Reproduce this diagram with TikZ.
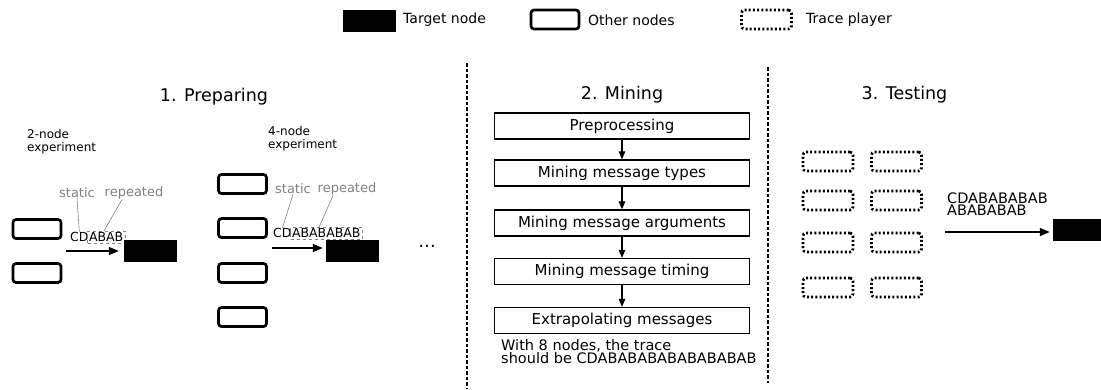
\documentclass[tikz,border=0pt]{standalone}
\usepackage{fontspec}
\setmainfont{DejaVu Sans}
\usepackage{tikz}
\usetikzlibrary{calc,arrows,arrows.meta,positioning}

\begin{document}
\begin{tikzpicture}[x=1pt,y=-1pt]
                      \tikzstyle{target}=[fill=black,draw=none,minimum width=53pt,minimum height=22pt,inner sep=0pt]
                      \tikzstyle{other}=[draw=black,line width=2.7pt,rounded corners=3pt,minimum width=48pt,minimum height=19pt,inner sep=0pt]
                      \tikzstyle{player}=[draw=black,line width=2.7pt,dash pattern=on 2pt off 2.2pt,rounded corners=3pt,minimum width=50pt,minimum height=19pt,inner sep=0pt]
                      \tikzstyle{stage}=[draw=black,line width=1.3pt,minimum width=255pt,minimum height=26pt,inner sep=0pt,font=\fontsize{15}{18}\selectfont]
                      \tikzstyle{title}=[inner sep=0pt,font=\fontsize{17.5}{20}\selectfont]
                      \tikzstyle{small}=[inner sep=0pt,font=\fontsize{12}{13}\selectfont]
                      \tikzstyle{note}=[inner sep=0pt,gray,font=\fontsize{13}{14}\selectfont]
                      \tikzstyle{trace}=[inner sep=0pt,font=\fontsize{12.5}{13}\selectfont]
                      \tikzstyle{rep}=[draw=gray,dashed,line width=0.6pt,inner sep=1.5pt,font=\fontsize{12.5}{13}\selectfont]
                      \tikzstyle{arr}=[line width=1.5pt,-{Triangle[length=10pt,width=8pt]}]
                      \tikzstyle{sep}=[line width=1.1pt,dash pattern=on 3.5pt off 2pt]
                      \useasboundingbox (0,0) rectangle (1101,389);
                      % legend
                      \node[target] (lt) at (369.5,21) {};
                      \node[anchor=west,inner sep=0pt,font=\fontsize{14}{16}\selectfont] (ltx) at (403,20) {Target node};
                      \node[other] (lo) at (555,19.5) {};
                      \node[anchor=west,inner sep=0pt,font=\fontsize{14}{16}\selectfont] (lox) at (588,20) {Other nodes};
                      \node[player] (lp) at (766.5,19.5) {};
                      \node[anchor=west,inner sep=0pt,font=\fontsize{14}{16}\selectfont] (lpx) at (806,20) {Trace player};
                      % separators
                      \coordinate (s1a) at (467,63);
                      \coordinate (s1b) at (467,389);
                      \coordinate (s2a) at (768,67);
                      \coordinate (s2b) at (768,383);
                      \draw[sep] (s1a) -- (s1b);
                      \draw[sep] (s2a) -- (s2b);
                      % 1. Preparing
                      \node[title] (prep) at (214,97) {1. Preparing};
                      \node[small,anchor=west,align=left] (exp2) at (27,142) {2-node\\experiment};
                      \node[other] (a1) at (37,229) {};
                      \node[other] (a2) at (37,273) {};
                      \node[trace,anchor=west] (cd2) at (70,237) {CD};
                      \node[rep,right=-1.5pt of cd2] (ab2) {ABAB};
                      \node[note] (st2) at (77,193) {static};
                      \node[note] (rp2) at (134,193) {repeated};
                      \draw[gray,line width=0.6pt] (st2.south) -- (cd2.north);
                      \draw[gray,line width=0.6pt] ([xshift=-12pt]rp2.south) -- ([xshift=-2pt]ab2.north);
                      \node[target] (t2) at (150.5,250.5) {};
                      \coordinate (in2) at (66,251);
                      \draw[arr,shorten >=5pt] (in2) -- (t2.west |- in2);
                      \node[small,anchor=west,align=left] (exp4) at (268,139) {4-node\\experiment};
                      \node[other] (b1) at (242.5,184) {};
                      \node[other] (b2) at (242.5,228) {};
                      \node[other] (b3) at (242.5,273) {};
                      \node[other] (b4) at (242.5,317) {};
                      \node[trace,anchor=west] (cd4) at (273,233) {CD};
                      \node[rep,right=-1.5pt of cd4] (ab4) {ABABABAB};
                      \node[note] (st4) at (293,189) {static};
                      \node[note] (rp4) at (347,189) {repeated};
                      \draw[gray,line width=0.6pt] (st4.south) -- (cd4.north);
                      \draw[gray,line width=0.6pt] ([xshift=-14pt]rp4.south) -- ([xshift=-7pt]ab4.north);
                      \node[target] (t4) at (352.5,251) {};
                      \coordinate (in4) at (272,248);
                      \draw[arr,shorten >=3pt] (in4) -- (t4.west |- in4);
                      \node[title] (dots) at (427,246) {\dots};
                      % 2. Mining
                      \node[title] (mine) at (622,95) {2. Mining};
                      \node[stage] (m1) at (622,126) {Preprocessing};
                      \node[stage] (m2) at (622,173) {Mining message types};
                      \node[stage] (m3) at (622,223) {Mining message arguments};
                      \node[stage] (m4) at (622,271.5) {Mining message timing};
                      \node[stage] (m5) at (622,320.5) {Extrapolating messages};
                      \foreach \i/\j in {m1/m2,m2/m3,m3/m4,m4/m5}
                        \draw[line width=1.2pt,-{Triangle[length=8pt,width=6.5pt]}] (\i) -- (\j);
                      \node[anchor=west,align=left,inner sep=0pt,font=\fontsize{14.5}{13}\selectfont] (res) at (501,351.5) {With 8 nodes, the trace\\should be CDABABABABABABABAB};
                      % 3. Testing
                      \node[title] (test) at (904.5,95) {3. Testing};
                      \foreach \r/\y in {1/161.5,2/200.5,3/242.5,4/287.5} {
                        \node[player] (p\r a) at (828,\y) {};
                        \node[player] (p\r b) at (896.5,\y) {};
                      }
                      \node[anchor=west,align=left,inner sep=0pt,font=\fontsize{14.5}{12.5}\selectfont] (seq) at (947,204) {CDABABABAB\\ABABABAB};
                      \node[target,minimum width=48pt] (t8) at (1077,230) {};
                      \coordinate (in8) at (945,232);
                      \draw[arr,shorten >=3pt] (in8) -- (t8.west |- in8);
                  \end{tikzpicture}
\end{document}
